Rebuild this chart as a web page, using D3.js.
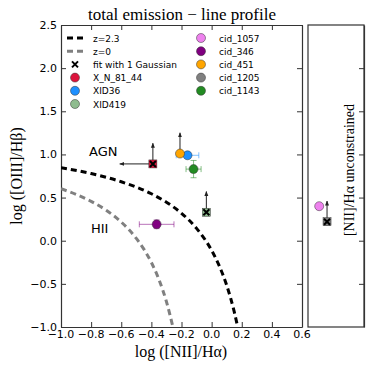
<!DOCTYPE html>
<html>
<head>
<meta charset="utf-8">
<script src="https://d3js.org/d3.v7.min.js"></script>
<style>
  body { margin: 0; background: #fff; }
  svg { display: block; }
  .tick-label { font-family: "DejaVu Sans", sans-serif; font-size: 11px; fill: #000; }
  .serif { font-family: "Liberation Serif", "DejaVu Serif", serif; fill: #000; }
  .legend-text { font-family: "DejaVu Sans", sans-serif; font-size: 9px; fill: #000; }
</style>
</head>
<body>
<svg width="374" height="374"></svg>
<script>
// sources and their colours
var sources = ['X_N_81_44', 'XID36', 'XID419', 'cid_1057', 'cid_346', 'cid_451', 'cid_1205', 'cid_1143'];
var colors = ['#dc143c', '#1e90ff', '#8fbc8f', '#ee82ee', '#800080', '#ffa500', '#808080', '#228b22'];
// line ratios (null = [NII] unconstrained, shown in the side panel)
var logNII = [-0.39, -0.16, -0.035, null, -0.365, -0.21, null, -0.12];
var logOIII = [0.89, 0.99, 0.33, 0.40, 0.19, 1.01, 0.22, 0.83];
var errNII = [0, 0.075, 0, 0, 0.115, 0, 0, 0.05];
var errOIII = [0, 0, 0, 0, 0.05, 0, 0, 0.1];
var oneGaussian = [true, false, true, false, false, false, true, false];
var limOIII = [true, false, true, false, false, true, true, false];
var limNII = [true, false, false, false, false, false, false, false];
var sideX = [null, null, null, 0.2, null, null, 0.34, null];
// demarcation curves
var curveZ0x = [-1.0, -0.9, -0.8, -0.7, -0.6, -0.5, -0.45, -0.4, -0.35, -0.3, -0.257];
var curveZ0y = [0.602, 0.537, 0.456, 0.353, 0.216, 0.027, -0.098, -0.252, -0.449, -0.706, -1.0];
var curveZ23x = [-1.0, -0.8, -0.6, -0.4, -0.3, -0.2, -0.1, 0.0, 0.05, 0.1, 0.15, 0.173];
var curveZ23y = [0.846, 0.778, 0.683, 0.544, 0.446, 0.318, 0.143, -0.112, -0.289, -0.517, -0.823, -1.0];
var xTicks = [-1.0, -0.8, -0.6, -0.4, -0.2, 0.0, 0.2, 0.4, 0.6];
var yTicks = [-1.0, -0.5, 0.0, 0.5, 1.0, 1.5, 2.0, 2.5];

(function() {
var svg = d3.select('svg'),
    box = {left: 61, top: 25, right: 302, bottom: 327},
    sideLeft = 308, sideRight = 364,
    fmt = d3.format('.1f'),
    arrowY = 0.24, arrowX = 0.22;

var x = d3.scaleLinear().domain([-1.0, 0.6]).range([box.left, box.right]);
var y = d3.scaleLinear().domain([-1.0, 2.5]).range([box.bottom, box.top]);
var xs = d3.scaleLinear().domain([0, 1]).range([sideLeft, sideRight]);

var defs = svg.append('defs');
defs.append('marker')
    .attr('id', 'head')
    .attr('viewBox', '0 0 10 10')
    .attr('refX', 9).attr('refY', 5)
    .attr('markerWidth', 5).attr('markerHeight', 5)
    .attr('orient', 'auto')
    .append('path').attr('d', 'M0,1L10,5L0,9z').attr('fill', '#222');
defs.append('clipPath').attr('id', 'clip')
    .append('rect').attr('x', box.left).attr('y', box.top)
    .attr('width', box.right - box.left).attr('height', box.bottom - box.top);

// axes with inward ticks
function axisBox(g, sc, ticks, side) {
    var ax = side === 'bottom' ? d3.axisBottom(sc) : side === 'top' ? d3.axisTop(sc) :
        side === 'left' ? d3.axisLeft(sc) : d3.axisRight(sc);
    g.call(ax.tickValues(ticks).tickSizeInner(-5).tickSizeOuter(0).tickFormat(''));
    g.select('.domain').attr('stroke', '#333').attr('stroke-width', 1.2);
    g.selectAll('.tick line').attr('stroke', '#333');
}
axisBox(svg.append('g').attr('transform', 'translate(0,' + box.bottom + ')'), x, xTicks, 'bottom');
axisBox(svg.append('g').attr('transform', 'translate(0,' + box.top + ')'), x, xTicks, 'top');
axisBox(svg.append('g').attr('transform', 'translate(' + box.left + ',0)'), y, yTicks, 'left');
axisBox(svg.append('g').attr('transform', 'translate(' + box.right + ',0)'), y, yTicks, 'right');

// side panel frame
svg.append('rect').attr('x', sideLeft).attr('y', box.top)
    .attr('width', sideRight - sideLeft).attr('height', box.bottom - box.top)
    .attr('fill', 'none').attr('stroke', '#333').attr('stroke-width', 1.2);
axisBox(svg.append('g').attr('transform', 'translate(' + sideRight + ',0)'), y, yTicks.slice(1, -1), 'right');

// tick labels
svg.selectAll('text.xl').data(xTicks).enter().append('text')
    .attr('class', 'tick-label xl').attr('x', function(d) { return x(d); }).attr('y', 338)
    .attr('text-anchor', 'middle').text(fmt);
svg.selectAll('text.yl').data(yTicks).enter().append('text')
    .attr('class', 'tick-label yl').attr('x', 57).attr('y', function(d) { return y(d) + 4; })
    .attr('text-anchor', 'end').text(fmt);

// titles
svg.append('text').attr('class', 'serif').attr('x', 182).attr('y', 20)
    .attr('text-anchor', 'middle').style('font-size', '17px').text('total emission \u2212 line profile');
svg.append('text').attr('class', 'serif').attr('x', 181).attr('y', 357)
    .attr('text-anchor', 'middle').style('font-size', '16px').text('log ([NII]/H\u03b1)');
svg.append('text').attr('class', 'serif')
    .attr('transform', 'translate(22,176) rotate(-90)')
    .attr('text-anchor', 'middle').style('font-size', '16px').text('log ([OIII]/H\u03b2)');
svg.append('text').attr('class', 'serif')
    .attr('transform', 'translate(354,170) rotate(-90)')
    .attr('text-anchor', 'middle').style('font-size', '14px').text('[NII]/H\u03b1 unconstrained');

// demarcation curves
var plot = svg.append('g').attr('clip-path', 'url(#clip)');
var line = d3.line().x(function(d) { return x(d[0]); }).y(function(d) { return y(d[1]); }).curve(d3.curveMonotoneX);
plot.append('path').datum(d3.zip(curveZ0x, curveZ0y)).attr('d', line)
    .attr('fill', 'none').attr('stroke', '#808080').attr('stroke-width', 3).attr('stroke-dasharray', '6,4');
plot.append('path').datum(d3.zip(curveZ23x, curveZ23y)).attr('d', line)
    .attr('fill', 'none').attr('stroke', '#000').attr('stroke-width', 3).attr('stroke-dasharray', '6,4');

svg.append('text').attr('x', 89).attr('y', 156).style('font-family', 'DejaVu Sans, sans-serif')
    .style('font-size', '13px').text('AGN');
svg.append('text').attr('x', 91).attr('y', 233).style('font-family', 'DejaVu Sans, sans-serif')
    .style('font-size', '13px').text('HII');

// points
var idx = d3.range(sources.length);
idx.forEach(function(i) {
    var px = logNII[i] === null ? xs(sideX[i]) : x(logNII[i]),
        py = y(logOIII[i]),
        g = svg.append('g');
    // limit arrows
    if (limOIII[i]) {
        g.append('line').attr('x1', px).attr('y1', py).attr('x2', px).attr('y2', y(logOIII[i] + arrowY))
            .attr('stroke', '#222').attr('stroke-width', 1).attr('marker-end', 'url(#head)');
    }
    if (limNII[i]) {
        g.append('line').attr('x1', px).attr('y1', py).attr('x2', x(logNII[i] - arrowX)).attr('y2', py)
            .attr('stroke', '#222').attr('stroke-width', 1).attr('marker-end', 'url(#head)');
    }
    // error bars
    var eb = g.append('g').attr('stroke', colors[i]).attr('stroke-opacity', 0.55).attr('stroke-width', 1);
    if (errNII[i] > 0) {
        var x0 = x(logNII[i] - errNII[i]), x1 = x(logNII[i] + errNII[i]);
        eb.append('line').attr('x1', x0).attr('x2', x1).attr('y1', py).attr('y2', py);
        [x0, x1].forEach(function(c) {
            eb.append('line').attr('x1', c).attr('x2', c).attr('y1', py - 3).attr('y2', py + 3);
        });
    }
    if (errOIII[i] > 0) {
        var y0 = y(logOIII[i] - errOIII[i]), y1 = y(logOIII[i] + errOIII[i]);
        eb.append('line').attr('x1', px).attr('x2', px).attr('y1', y0).attr('y2', y1);
        [y0, y1].forEach(function(c) {
            eb.append('line').attr('x1', px - 3).attr('x2', px + 3).attr('y1', c).attr('y2', c);
        });
    }
    if (oneGaussian[i]) {
        g.append('rect').attr('x', px - 4).attr('y', py - 4).attr('width', 8).attr('height', 8)
            .attr('fill', colors[i]).attr('stroke', '#333').attr('stroke-width', 0.5);
        g.append('path').attr('d', 'M' + (px - 3) + ',' + (py - 3) + 'l6,6M' + (px + 3) + ',' + (py - 3) + 'l-6,6')
            .attr('stroke', '#000').attr('stroke-width', 2);
    } else {
        g.append('circle').attr('cx', px).attr('cy', py).attr('r', 4.5)
            .attr('fill', colors[i]).attr('stroke', '#333').attr('stroke-width', 0.5);
    }
});

// legend
var legend = svg.append('g');
var rowY = function(r) { return 38 + r * 13.2; };
legend.append('line').attr('x1', 67).attr('x2', 85).attr('y1', rowY(0)).attr('y2', rowY(0))
    .attr('stroke', '#000').attr('stroke-width', 3).attr('stroke-dasharray', '6,4');
legend.append('line').attr('x1', 67).attr('x2', 85).attr('y1', rowY(1)).attr('y2', rowY(1))
    .attr('stroke', '#808080').attr('stroke-width', 3).attr('stroke-dasharray', '6,4');
legend.append('path').attr('d', 'M72,' + (rowY(2) - 3) + 'l6,6M78,' + (rowY(2) - 3) + 'l-6,6')
    .attr('stroke', '#000').attr('stroke-width', 2);
var labels = ['z=2.3', 'z=0', 'fit with 1 Gaussian'];
labels.forEach(function(t, r) {
    legend.append('text').attr('class', 'legend-text').attr('x', 93).attr('y', rowY(r) + 3.5).text(t);
});
idx.forEach(function(i) {
    var col = i < 3 ? 0 : 1,
        r = i < 3 ? i + 3 : i - 3,
        mx = col === 0 ? 75 : 201;
    legend.append('circle').attr('cx', mx).attr('cy', rowY(r)).attr('r', 4.5)
        .attr('fill', colors[i]).attr('stroke', '#333').attr('stroke-width', 0.5);
    legend.append('text').attr('class', 'legend-text').attr('x', mx + 18).attr('y', rowY(r) + 3.5).text(sources[i]);
});
})();
</script>
</body>
</html>
